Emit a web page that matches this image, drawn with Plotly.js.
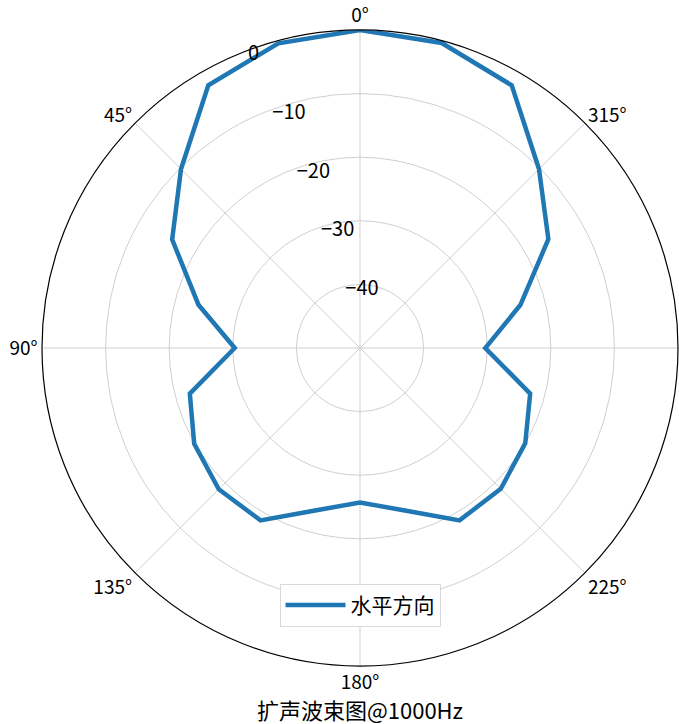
<!DOCTYPE html>
<html>
<head>
<meta charset="utf-8">
<script src="https://cdn.plot.ly/plotly-3.0.1.min.js"></script>
<style>
  body { margin: 0; background: #fff; }
  #beam-diagram { width: 679px; height: 724px; }
</style>
</head>
<body>
<div id="beam-diagram"></div>
<script>
// Angles (degrees) and level (dB) of the horizontal beam
const angles = [0, 15, 30, 45, 60, 75, 90, 105, 120, 135, 150, 165, 180,
                195, 210, 225, 240, 255, 270, 285, 300, 315, 330, 345, 360];
const levels = [0, -0.4, -2.3, -10.2, -15.9, -23.7, -30.3, -22.3, -19.9, -18.6, -18.7, -23.6, -25.7,
                -23.6, -18.7, -18.7, -20.0, -22.3, -30.3, -23.9, -15.8, -10.2, -2.3, -0.35, 0];
const radialTicks = [-40, -30, -20, -10, 0];
const angleTicks = [0, 45, 90, 135, 180, 225, 270, 315];
// 270° falls outside the picture in the original, so it is left blank
const angleLabels = ['0°', '45°', '90°', '135°', '180°', '225°', '', '315°'];
const seriesName = '水平方向';
const chartTitle = '扩声波束图@1000Hz';

const FONT = '"Noto Sans CJK SC", "DejaVu Sans", sans-serif';
// x of the polar centre, as a fraction of the page width
const CENTER_X = 360 / 679;

function createBeamDiagram() {
    let beam = {
        type: 'scatterpolar',
        r: levels,
        theta: angles,
        mode: 'lines',
        name: seriesName,
        line: {
            color: '#1f77b4',
            width: 4.5
        }
    }

    // Layout of the chart
    let layout = {
        width: 679,
        height: 724,
        margin: { l: 0, r: 0, t: 0, b: 0 },
        paper_bgcolor: '#fff',
        font: { family: FONT, size: 20, color: '#000' },
        showlegend: true,
        legend: {
            x: CENTER_X,
            xanchor: 'center',
            y: 0.164,
            yanchor: 'middle',
            itemwidth: 60,
            bgcolor: '#fff',
            bordercolor: '#d9d9d9',
            borderwidth: 1,
            font: { family: FONT, size: 21 }
        },
        title: {
            text: chartTitle,
            x: CENTER_X,
            xanchor: 'center',
            y: 0.017,
            yanchor: 'middle',
            yref: 'container',
            font: { family: FONT, size: 22, color: '#000' }
        },
        polar: {
            domain: { x: [42 / 679, 678 / 679], y: [58 / 724, 694 / 724] },
            bgcolor: '#fff',
            radialaxis: {
                range: [-50, 0],
                tickvals: radialTicks,
                angle: 112.5,
                tickangle: 112.5,
                showline: false,
                ticks: '',
                gridcolor: '#cfcfcf',
                gridwidth: 1,
                tickfont: { family: FONT, size: 20 }
            },
            angularaxis: {
                rotation: 90,
                direction: 'counterclockwise',
                tickmode: 'array',
                tickvals: angleTicks,
                ticktext: angleLabels,
                ticks: '',
                showline: true,
                linecolor: '#000',
                linewidth: 1.2,
                gridcolor: '#cfcfcf',
                gridwidth: 1,
                tickfont: { family: FONT, size: 19 }
            }
        }
    }

    // General chart configuration
    let config = {
        displayModeBar: false,
        staticPlot: true
    }

    Plotly.newPlot('beam-diagram', [beam], layout, config);
}

createBeamDiagram();
</script>
</body>
</html>
